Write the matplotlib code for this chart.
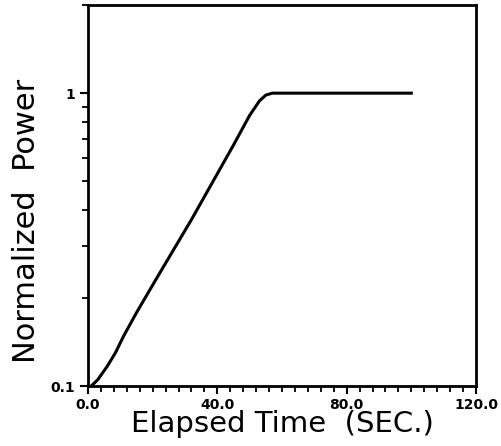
import matplotlib
matplotlib.use('Agg')
import matplotlib.pyplot as plt
from matplotlib.ticker import FixedLocator, LogLocator, NullFormatter

# Curve (time in s, normalized power)
time_s = [1, 3, 6, 8.5, 11, 15, 21, 32, 45, 50, 53, 55, 57, 60, 100]
power = [0.1, 0.105, 0.117, 0.13, 0.148, 0.178, 0.231, 0.37, 0.665, 0.84,
         0.94, 0.985, 1.0, 1.0, 1.0]

x_ticks = [0, 40, 80, 120]
x_tick_labels = ['0.0', '40.0', '80.0', '120.0']
y_ticks = [0.1, 1]
y_tick_labels = ['0.1', '1']

fig = plt.figure(figsize=(5.02, 4.46), dpi=100)
ax = fig.add_axes([88/502, 60/446, 388/502, 381/446])

ax.plot(time_s, power, color='black', linewidth=2.2)

ax.set_yscale('log')
ax.set_xlim(0, 120)
ax.set_ylim(0.1, 2.0)

ax.xaxis.set_major_locator(FixedLocator(x_ticks))
ax.set_xticklabels(x_tick_labels, fontsize=10, fontweight='bold')
ax.xaxis.set_minor_locator(FixedLocator(list(range(0, 121, 4))))

ax.yaxis.set_major_locator(FixedLocator(y_ticks))
ax.set_yticklabels(y_tick_labels, fontsize=10, fontweight='bold')
ax.yaxis.set_minor_locator(LogLocator(base=10, subs=range(2, 10)))
ax.yaxis.set_minor_formatter(NullFormatter())

ax.tick_params(which='major', direction='out', length=6, width=1.5,
               top=False, right=False, pad=3.5)
ax.tick_params(which='minor', direction='out', length=4, width=1.3,
               top=False, right=False)
ax.tick_params(axis='x', which='major', pad=2.5)

for s in ax.spines.values():
    s.set_linewidth(2.0)

ax.set_xlabel('Elapsed Time  (SEC.)', fontsize=21, labelpad=-1)
ax.set_ylabel('Normalized  Power', fontsize=22)
ax.yaxis.set_label_coords(-0.12, 0.433)

plt.savefig('out.png', dpi=100)
